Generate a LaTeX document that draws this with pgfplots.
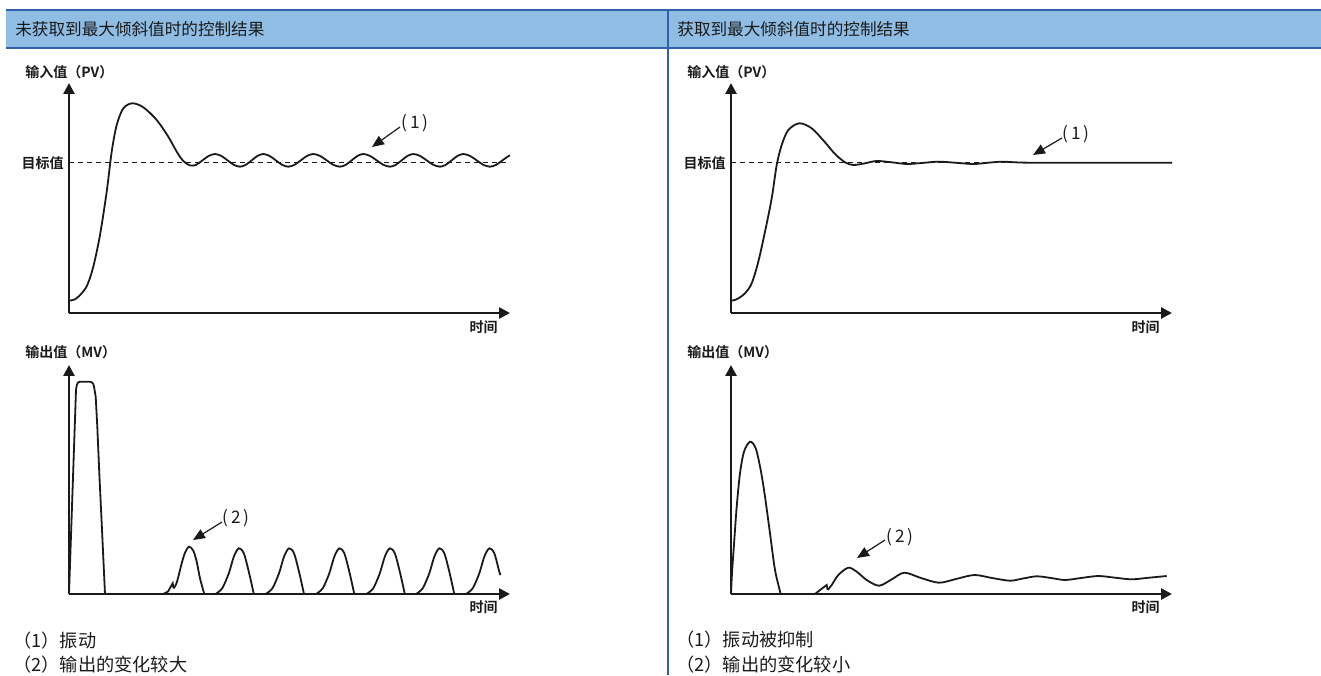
\documentclass[border=0pt]{standalone}
\usepackage{pgfplots}
\pgfplotsset{compat=1.18}
\usetikzlibrary{arrows.meta}
\usepackage{fontspec}
\setmainfont{Noto Sans CJK SC}
\newfontfamily\cjkbold{Noto Sans CJK SC Bold}
\definecolor{hdrfill}{HTML}{8FBDE3}
\definecolor{hdrline}{HTML}{3061AB}
\definecolor{ink}{HTML}{1A1A1A}
\pgfplotsset{
  diag/.style={
    anchor=south west, x=0.5pt, y=0.5pt, xmin=0, xmax=441, ymin=0,
    axis x line*=bottom, axis y line*=left,
    axis line style={line width=1.3pt, ink, -{Triangle[length=5.5pt,width=5.5pt]}},
    xtick=\empty, ytick=\empty, clip=false,
  },
  curve/.style={ink, line width=0.9pt, no markers},
  target/.style={ink, line width=0.55pt, dash pattern=on 2.5pt off 2pt},
}
\tikzset{
  ann/.style={ink, line width=0.6pt, -{Triangle[length=6pt,width=5pt]}},
  hdr/.style={anchor=west, inner sep=0pt, text=ink, font=\fontsize{8.3pt}{10pt}\selectfont},
  lab/.style={inner sep=0pt, text=ink, font=\cjkbold\fontsize{7pt}{8pt}\selectfont},
  num/.style={anchor=west, inner sep=0pt, text=ink, font=\fontsize{8.6pt}{10pt}\selectfont},
  foot/.style={anchor=west, inner sep=0pt, text=ink, font=\fontsize{9.1pt}{11pt}\selectfont},
}
\begin{document}
\begin{tikzpicture}[x=0.5pt, y=0.5pt]
\path[use as bounding box] (0,0) rectangle (1321,675);
% header band
\fill[hdrfill] (6,627) rectangle (1321,665);
\draw[hdrline, line width=1pt] (6,665) -- (1321,665);
\draw[hdrline, line width=1pt] (6,627) -- (1321,627);
\draw[hdrline, line width=1pt] (668,666) -- (668,0);
\node[hdr] at (15,646) {未获取到最大倾斜值时的控制结果};
\node[hdr] at (677,646) {获取到最大倾斜值时的控制结果};

% ---------------- top left: PV, oscillating
\begin{axis}[diag, at={(69,362)}, ymax=230]
\addplot[target] coordinates {(0,150.3) (441,150.3)};
\addplot[curve, smooth] coordinates {
(0,12.3) (6,13.7) (12.7,19.7) (18.3,28) (24.3,46.3) (31,78) (37.7,121.3)
(42.7,161.3) (47.7,188) (54.3,204.7) (63.3,209.7) (74.3,205.7) (87.7,193)
(99.3,176.3) (107.7,161.3) (114.3,152) (121,147.5)
(127.25,148.2) (133.5,152.65) (139.75,157.1) (146,159)
(152.25,157.1) (158.5,152.65) (164.75,148.2) (171,146.3)
(176.8,148.2) (182.65,152.65) (188.5,157.1) (194.3,159)
(200.55,157.1) (206.8,152.65) (213.05,148.2) (219.3,146.3)
(225.55,148.2) (231.8,152.65) (238.05,157.1) (244.3,159)
(251,157.1) (257.65,152.65) (264.3,148.2) (271,146.3)
(276.8,148.2) (282.65,152.65) (288.5,157.1) (294.3,159)
(301,157.1) (307.65,152.65) (314.3,148.2) (321,146.3)
(326.8,148.2) (332.65,152.65) (338.5,157.1) (344.3,159)
(351,157.1) (357.65,152.65) (364.3,148.2) (371,146.3)
(376.8,148.2) (382.65,152.65) (388.5,157.1) (394.3,159)
(401,157.1) (407.65,152.65) (414.3,148.2) (421,146.3)
(427.25,148.2) (433.5,152.65) (439.75,157.1) (441,157.6)};
\draw[ann] (axis cs:331,186) -- (axis cs:303,166);
\end{axis}

% ---------------- top right: PV, damped
\begin{axis}[diag, at={(731,362)}, ymax=230]
\addplot[target] coordinates {(0,150.3) (441,150.3)};
\addplot[curve, smooth] coordinates {
(0,12.3) (5.7,13.7) (14,19.7) (20.7,29.7) (27.3,51.3) (34,81.3) (40.7,114.7)
(45.7,148) (50.7,168) (57.3,183) (68.3,189.7) (80.7,184.7) (94,170.7)
(104,159) (114,150.7) (122.3,148) (134,149.7) (145.7,152) (160.7,150.7)
(175.7,149) (190.7,150) (207.3,151.3) (224,150.3) (242.3,149) (257.3,150.3)
(270.7,151.3) (284,150.7) (300.7,150.3) (370,150.3) (441,150.3)};
\draw[ann] (axis cs:331,175) -- (axis cs:302,158);
\end{axis}

% ---------------- bottom left: MV, large changes
\begin{axis}[diag, at={(69,81)}, ymax=229]
\addplot[curve] coordinates {
(0,0) (7,204) (7.8,209) (9,211.5) (11,212.3) (21,212.3) (23,211.5) (24.3,210)
(25,207.3) (26.7,197.3) (28.3,167.3) (30.3,120.7) (32.7,70.7) (36,0) (94.3,0)
(99,2.5) (103.7,10.7) (104.5,5.7)};
\addplot[curve, smooth] coordinates {
(104.5,5.7) (107.7,11.3) (112.7,30.7) (116,41.3) (120,47.3) (124.3,43.3)
(127.7,32.3) (131,15.7) (135.3,0)};
\addplot[curve, smooth] coordinates {(146.5,0) (153.2,5.7) (159.8,20.7) (164.8,37.3) (169.8,45.7) (174.8,40.7) (179.8,22.3) (184.8,0)};
\addplot[curve, smooth] coordinates {(196.7,0) (203.4,5.7) (210,20.7) (215,37.3) (220,45.7) (225,40.7) (230,22.3) (235,0)};
\addplot[curve, smooth] coordinates {(247,0) (253.7,5.7) (260.3,20.7) (265.3,37.3) (270.3,45.7) (275.3,40.7) (280.3,22.3) (285.3,0)};
\addplot[curve, smooth] coordinates {(297.5,0) (304.2,5.7) (310.8,20.7) (315.8,37.3) (320.8,45.7) (325.8,40.7) (330.8,22.3) (335.8,0)};
\addplot[curve, smooth] coordinates {(347,0) (353.7,5.7) (360.3,20.7) (365.3,37.3) (370.3,45.7) (375.3,40.7) (380.3,22.3) (385.3,0)};
\addplot[curve, smooth] coordinates {(397,0) (403.7,5.7) (410.3,20.7) (415.3,37.3) (420.3,45.7) (425.3,40.7) (430.3,22.3) (431.5,19)};
\draw[ann] (axis cs:153,72) -- (axis cs:124,54);
\end{axis}

% ---------------- bottom right: MV, small changes
\begin{axis}[diag, at={(731,81)}, ymax=229]
\addplot[curve, smooth] coordinates {
(0,0) (1,20.7) (3.3,54) (5.7,87.3) (9,120.7) (13,142.3) (19,152.3) (24.7,145.7)
(29.7,124) (34,97.3) (39,60.7) (44,24) (49.7,0)};
\addplot[curve] coordinates {(49.7,0) (84,0) (89,4) (95.7,9) (96.7,4)};
\addplot[curve, smooth] coordinates {
(96.7,4) (100.7,9) (107.3,19) (117.3,26.3) (125.7,22.3) (135.7,14) (148,8.3)
(160.5,14.5) (173.3,21.3) (190,16) (208,11.3) (225,15) (243.3,19) (261,16)
(279,13.3) (292,15.5) (305.7,17.7) (320,16) (334,14) (350,16) (367.3,18)
(384,16.3) (400.7,14.7) (418,16.3) (435.7,18)};
\draw[ann] (axis cs:154,54) -- (axis cs:126,36);
\end{axis}

% ---------------- labels
\node[lab, anchor=west] at (25,603) {输入值（PV）};
\node[lab, anchor=west] at (687,603) {输入值（PV）};
\node[lab, anchor=west] at (25,323) {输出值（MV）};
\node[lab, anchor=west] at (687,323) {输出值（MV）};
\node[lab, anchor=east] at (64,512) {目标值};
\node[lab, anchor=east] at (726,512) {目标值};
\node[lab, anchor=east] at (498,348) {时间};
\node[lab, anchor=east] at (1160,348) {时间};
\node[lab, anchor=east] at (498,68) {时间};
\node[lab, anchor=east] at (1160,68) {时间};
\node[num] at (401,552) {(\,1\,)};
\node[num] at (1062,541) {(\,1\,)};
\node[num] at (222,157) {(\,2\,)};
\node[num] at (886,138) {(\,2\,)};
\node[foot] at (13,34) {（1）振动};
\node[foot] at (13,10) {（2）输出的变化较大};
\node[foot] at (676,35) {（1）振动被抑制};
\node[foot] at (676,10) {（2）输出的变化较小};
\end{tikzpicture}
\end{document}
